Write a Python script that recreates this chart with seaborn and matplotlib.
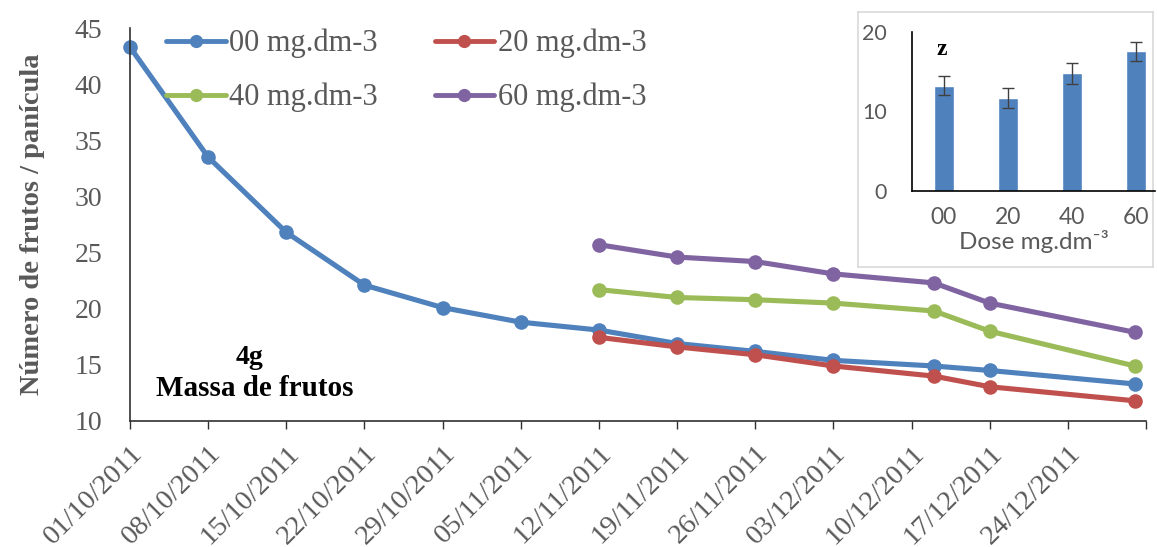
import numpy as np
import pandas as pd
import matplotlib
matplotlib.use('Agg')
import matplotlib.pyplot as plt
import matplotlib.transforms as mtransforms
from matplotlib.lines import Line2D
import seaborn as sns

# ---------------- data ----------------
dates = ['01/10/2011', '08/10/2011', '15/10/2011', '22/10/2011', '29/10/2011',
         '05/11/2011', '12/11/2011', '19/11/2011', '26/11/2011', '03/12/2011',
         '12/12/2011', '17/12/2011', '30/12/2011']
dose_00 = [43.3, 33.5, 26.8, 22.1, 20.1, 18.8, 18.1, 16.9, 16.2, 15.4, 14.9, 14.5, 13.3]
dose_20 = [np.nan] * 6 + [17.45, 16.6, 15.9, 14.9, 14.0, 13.05, 11.8]
dose_40 = [np.nan] * 6 + [21.7, 21.0, 20.8, 20.5, 19.8, 18.0, 14.9]
dose_60 = [np.nan] * 6 + [25.7, 24.6, 24.2, 23.1, 22.3, 20.5, 17.9]
series_labels = ['00 mg.dm-3', '20 mg.dm-3', '40 mg.dm-3', '60 mg.dm-3']
colors = ['#4F81BD', '#C0504D', '#9BBB59', '#8064A2']
y_ticks = [10, 15, 20, 25, 30, 35, 40, 45]

inset_doses = ['00', '20', '40', '60']
inset_means = [13.2, 11.7, 14.8, 17.6]
inset_err = [1.2, 1.3, 1.3, 1.2]
inset_yticks = [0, 10, 20]

# ---------------- style ----------------
sns.set_theme(style='white')
plt.rcParams['font.family'] = ['Liberation Serif', 'DejaVu Sans']
GRAY = '#595959'
SPINE = '#303030'

fig = plt.figure(figsize=(11.57, 5.47), dpi=100)
W, H = 1157, 547
ax = fig.add_axes([130 / W, 1 - 421 / H, 1016 / W, 393 / H])

df = pd.DataFrame({'date': pd.to_datetime(dates, format='%d/%m/%Y'),
                   series_labels[0]: dose_00, series_labels[1]: dose_20,
                   series_labels[2]: dose_40, series_labels[3]: dose_60})
long = df.melt(id_vars='date', var_name='dose', value_name='value').dropna()

sns.lineplot(data=long, x='date', y='value', hue='dose', hue_order=series_labels,
             palette=colors, marker='o', markersize=10.5, markeredgewidth=0,
             linewidth=3.7, estimator=None, legend=False, ax=ax)
for ln in ax.lines:
    ln.set_clip_on(False)

ticks = pd.date_range('2011-10-01', '2011-12-31', freq='7D')
ax.set_xlim(pd.Timestamp('2011-10-01'), pd.Timestamp('2011-12-31'))
ax.set_xticks(ticks)
ax.set_xticklabels([t.strftime('%d/%m/%Y') for t in ticks[:-1]] + [''],
                   rotation=45, ha='right', va='top', rotation_mode='anchor',
                   fontsize=20.5, color=GRAY)
offset = mtransforms.ScaledTranslation(7 / 100, -10 / 100, fig.dpi_scale_trans)
for lbl in ax.get_xticklabels():
    lbl.set_transform(lbl.get_transform() + offset)
ax.set_ylim(10, 45)
ax.set_yticks(y_ticks)
ax.set_yticklabels([str(v) for v in y_ticks], fontsize=20, color=GRAY)
ax.tick_params(axis='y', length=0, pad=20)
ax.tick_params(axis='x', length=6, width=1, direction='out', color=SPINE, pad=8, bottom=True)
for s in ['top', 'right']:
    ax.spines[s].set_visible(False)
for s in ['left', 'bottom']:
    ax.spines[s].set_color(SPINE)
    ax.spines[s].set_linewidth(1.2)
ax.set_xlabel('')
ax.set_ylabel('Número de frutos / panícula', fontsize=20.5, fontweight='bold',
              color=GRAY, labelpad=21)

ax.text(0.118, 0.162, '4g', transform=ax.transAxes, ha='center', va='center',
        fontsize=20, fontweight='bold', color='black')
ax.text(0.123, 0.082, 'Massa de frutos', transform=ax.transAxes, ha='center',
        va='center', fontsize=21, fontweight='bold', color='black')

handles = [Line2D([0], [0], color=c, lw=3.5, marker='o', markersize=9.5,
                  markeredgewidth=0) for c in colors]
order = [0, 2, 1, 3]
fig.legend([handles[i] for i in order], [series_labels[i] for i in order],
           loc='upper left', bbox_to_anchor=(166 / W, 1 - 29 / H), ncol=2,
           frameon=False, fontsize=22, handlelength=1.95, handletextpad=0.12,
           columnspacing=1.85, labelspacing=0.8, borderpad=0, borderaxespad=0,
           labelcolor=GRAY)

# ---------------- inset ----------------
bg = fig.add_axes([858 / W, 1 - 267 / H, 295 / W, 255 / H])
bg.set_xticks([])
bg.set_yticks([])
bg.set_facecolor('white')
for s in bg.spines.values():
    s.set_color('#D9D9D9')
    s.set_linewidth(1.2)

axin = fig.add_axes([912 / W, 1 - 190.7 / H, 243 / W, 158.7 / H])
axin.set_facecolor('none')
sns.barplot(x=inset_doses, y=inset_means, color='#4F81BD', saturation=1,
            width=0.31, ax=axin)
axin.errorbar(range(len(inset_doses)), inset_means, yerr=inset_err, fmt='none',
              ecolor='#404040', elinewidth=1, capsize=4, capthick=1)
axin.set_ylim(0, 20)
axin.set_xlim(-0.5, 3.3)
axin.set_yticks(inset_yticks)
SANS = ['Lato', 'DejaVu Sans']
axin.set_yticklabels([str(v) for v in inset_yticks], fontsize=15.5, color=GRAY, family=SANS)
axin.set_xticks(range(len(inset_doses)))
axin.set_xticklabels(inset_doses, fontsize=16.5, color=GRAY, family=SANS)
axin.tick_params(axis='y', length=0, pad=18)
axin.tick_params(axis='x', length=0, pad=12)
for s in ['top', 'right']:
    axin.spines[s].set_visible(False)
for s in ['left', 'bottom']:
    axin.spines[s].set_color('black')
    axin.spines[s].set_linewidth(1.2)
axin.set_xlabel('Dose mg.dm\u207b\u00b3', fontsize=17.5, color=GRAY, family=SANS, labelpad=1)
axin.set_ylabel('')
axin.text(0.123, 0.89, 'z', transform=axin.transAxes, ha='center', va='center',
          fontsize=17, fontweight='bold', color='black', family=['Liberation Serif'])

fig.savefig('out.png', dpi=100)
